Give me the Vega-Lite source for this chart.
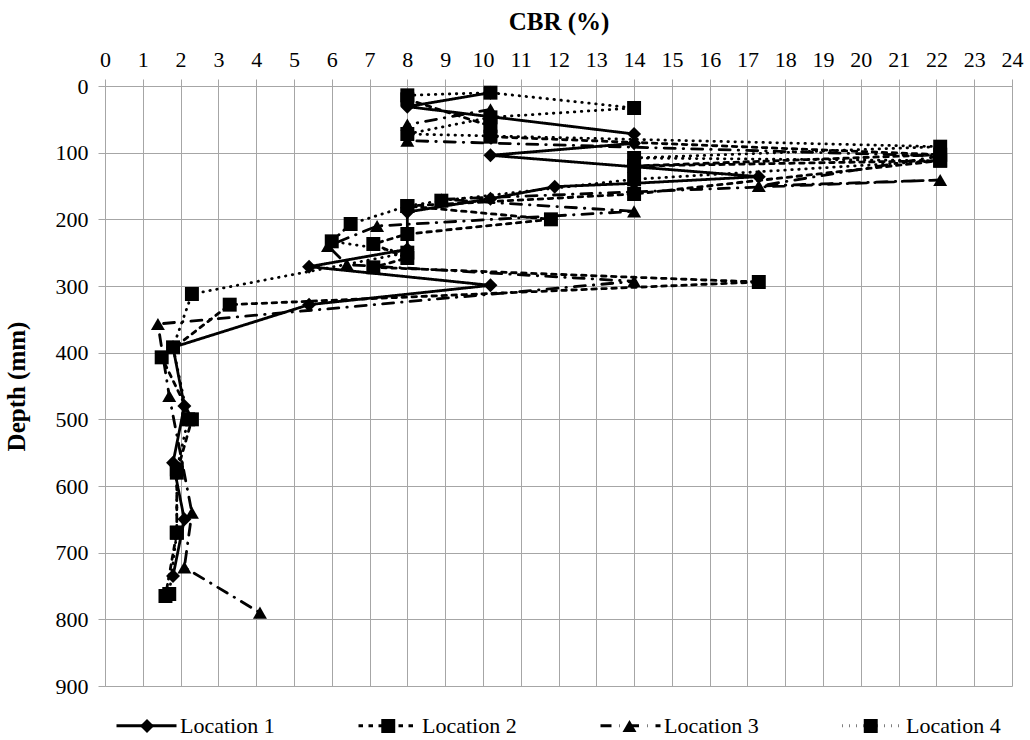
{
  "$schema": "https://vega.github.io/schema/vega-lite/v6.json",
  "width": 907,
  "height": 600,
  "autosize": "none",
  "padding": {"left": 105, "top": 86, "right": 18, "bottom": 54},
  "background": "white",
  "config": {
    "font": "Liberation Serif",
    "view": {"stroke": null},
    "style": {
      "guide-label": {"font": "Liberation Serif", "fontSize": 22, "fill": "black"},
      "guide-title": {"font": "Liberation Serif", "fontSize": 25, "fontWeight": "bold", "fill": "black"}
    },
    "axis": {
      "gridColor": "#a6a6a6", "gridWidth": 1, "gridOpacity": 1,
      "domainColor": "#a6a6a6", "domainWidth": 1,
      "tickColor": "#a6a6a6", "tickSize": 7, "tickWidth": 1,
      "labelFont": "Liberation Serif", "labelFontSize": 22, "labelColor": "black",
      "titleFont": "Liberation Serif", "titleFontSize": 25, "titleFontWeight": "bold", "titleColor": "black"
    },
    "legend": {
      "labelFont": "Liberation Serif", "labelFontSize": 22, "labelColor": "black"
    }
  },
  "data": {
    "values": [
      {"Location": "Location 1", "Order": 1, "CBR": 10.2, "Depth": 10},
      {"Location": "Location 1", "Order": 2, "CBR": 8, "Depth": 31},
      {"Location": "Location 1", "Order": 3, "CBR": 14, "Depth": 72},
      {"Location": "Location 1", "Order": 4, "CBR": 14, "Depth": 86},
      {"Location": "Location 1", "Order": 5, "CBR": 10.2, "Depth": 104},
      {"Location": "Location 1", "Order": 6, "CBR": 17.3, "Depth": 136},
      {"Location": "Location 1", "Order": 7, "CBR": 14, "Depth": 146},
      {"Location": "Location 1", "Order": 8, "CBR": 11.9, "Depth": 151},
      {"Location": "Location 1", "Order": 9, "CBR": 10.2, "Depth": 169},
      {"Location": "Location 1", "Order": 10, "CBR": 8, "Depth": 189},
      {"Location": "Location 1", "Order": 11, "CBR": 8, "Depth": 245},
      {"Location": "Location 1", "Order": 12, "CBR": 5.4, "Depth": 271},
      {"Location": "Location 1", "Order": 13, "CBR": 10.2, "Depth": 299},
      {"Location": "Location 1", "Order": 14, "CBR": 5.4, "Depth": 328},
      {"Location": "Location 1", "Order": 15, "CBR": 1.8, "Depth": 392},
      {"Location": "Location 1", "Order": 16, "CBR": 2.1, "Depth": 480},
      {"Location": "Location 1", "Order": 17, "CBR": 1.8, "Depth": 565},
      {"Location": "Location 1", "Order": 18, "CBR": 2.1, "Depth": 650},
      {"Location": "Location 1", "Order": 19, "CBR": 1.8, "Depth": 735},

      {"Location": "Location 2", "Order": 1, "CBR": 8, "Depth": 20},
      {"Location": "Location 2", "Order": 2, "CBR": 10.2, "Depth": 60},
      {"Location": "Location 2", "Order": 3, "CBR": 10.2, "Depth": 76},
      {"Location": "Location 2", "Order": 4, "CBR": 22.1, "Depth": 103},
      {"Location": "Location 2", "Order": 5, "CBR": 14, "Depth": 120},
      {"Location": "Location 2", "Order": 6, "CBR": 22.1, "Depth": 112},
      {"Location": "Location 2", "Order": 7, "CBR": 14, "Depth": 162},
      {"Location": "Location 2", "Order": 8, "CBR": 8, "Depth": 180},
      {"Location": "Location 2", "Order": 9, "CBR": 11.8, "Depth": 200},
      {"Location": "Location 2", "Order": 10, "CBR": 8, "Depth": 222},
      {"Location": "Location 2", "Order": 11, "CBR": 7.1, "Depth": 237},
      {"Location": "Location 2", "Order": 12, "CBR": 8, "Depth": 258},
      {"Location": "Location 2", "Order": 13, "CBR": 7.1, "Depth": 272},
      {"Location": "Location 2", "Order": 14, "CBR": 17.3, "Depth": 294},
      {"Location": "Location 2", "Order": 15, "CBR": 3.3, "Depth": 328},
      {"Location": "Location 2", "Order": 16, "CBR": 1.5, "Depth": 407},
      {"Location": "Location 2", "Order": 17, "CBR": 2.3, "Depth": 500},
      {"Location": "Location 2", "Order": 18, "CBR": 1.9, "Depth": 580},
      {"Location": "Location 2", "Order": 19, "CBR": 1.9, "Depth": 670},
      {"Location": "Location 2", "Order": 20, "CBR": 1.6, "Depth": 765},

      {"Location": "Location 3", "Order": 1, "CBR": 10.2, "Depth": 35},
      {"Location": "Location 3", "Order": 2, "CBR": 8, "Depth": 58},
      {"Location": "Location 3", "Order": 3, "CBR": 8, "Depth": 82},
      {"Location": "Location 3", "Order": 4, "CBR": 22.1, "Depth": 105},
      {"Location": "Location 3", "Order": 5, "CBR": 17.3, "Depth": 150},
      {"Location": "Location 3", "Order": 6, "CBR": 22.1, "Depth": 141},
      {"Location": "Location 3", "Order": 7, "CBR": 8.9, "Depth": 170},
      {"Location": "Location 3", "Order": 8, "CBR": 14, "Depth": 188},
      {"Location": "Location 3", "Order": 9, "CBR": 7.2, "Depth": 210},
      {"Location": "Location 3", "Order": 10, "CBR": 5.9, "Depth": 240},
      {"Location": "Location 3", "Order": 11, "CBR": 6.4, "Depth": 268},
      {"Location": "Location 3", "Order": 12, "CBR": 14, "Depth": 293},
      {"Location": "Location 3", "Order": 13, "CBR": 1.4, "Depth": 357},
      {"Location": "Location 3", "Order": 14, "CBR": 1.7, "Depth": 465},
      {"Location": "Location 3", "Order": 15, "CBR": 2.3, "Depth": 640},
      {"Location": "Location 3", "Order": 16, "CBR": 2.1, "Depth": 722},
      {"Location": "Location 3", "Order": 17, "CBR": 4.1, "Depth": 790},

      {"Location": "Location 4", "Order": 1, "CBR": 8, "Depth": 14},
      {"Location": "Location 4", "Order": 2, "CBR": 10.2, "Depth": 10},
      {"Location": "Location 4", "Order": 3, "CBR": 14, "Depth": 33},
      {"Location": "Location 4", "Order": 4, "CBR": 10.2, "Depth": 47},
      {"Location": "Location 4", "Order": 5, "CBR": 8, "Depth": 72},
      {"Location": "Location 4", "Order": 6, "CBR": 22.1, "Depth": 91},
      {"Location": "Location 4", "Order": 7, "CBR": 14, "Depth": 108},
      {"Location": "Location 4", "Order": 8, "CBR": 22.1, "Depth": 112},
      {"Location": "Location 4", "Order": 9, "CBR": 14, "Depth": 140},
      {"Location": "Location 4", "Order": 10, "CBR": 8.9, "Depth": 172},
      {"Location": "Location 4", "Order": 11, "CBR": 8, "Depth": 180},
      {"Location": "Location 4", "Order": 12, "CBR": 6.5, "Depth": 207},
      {"Location": "Location 4", "Order": 13, "CBR": 6.0, "Depth": 233},
      {"Location": "Location 4", "Order": 14, "CBR": 8, "Depth": 250},
      {"Location": "Location 4", "Order": 15, "CBR": 2.3, "Depth": 312},
      {"Location": "Location 4", "Order": 16, "CBR": 1.8, "Depth": 392},
      {"Location": "Location 4", "Order": 17, "CBR": 2.2, "Depth": 500},
      {"Location": "Location 4", "Order": 18, "CBR": 1.9, "Depth": 575},
      {"Location": "Location 4", "Order": 19, "CBR": 1.9, "Depth": 670},
      {"Location": "Location 4", "Order": 20, "CBR": 1.7, "Depth": 762}
    ]
  },
  "encoding": {
    "x": {
      "field": "CBR", "type": "quantitative",
      "scale": {"domain": [0, 24], "nice": false, "zero": false},
      "axis": {"orient": "top", "title": "CBR (%)", "values": [0,1,2,3,4,5,6,7,8,9,10,11,12,13,14,15,16,17,18,19,20,21,22,23,24], "labelPadding": 8, "titlePadding": 14, "labelFlush": false, "labelOverlap": false}
    },
    "y": {
      "field": "Depth", "type": "quantitative",
      "scale": {"domain": [0, 900], "reverse": true, "nice": false},
      "axis": {"title": "Depth (mm)", "values": [0,100,200,300,400,500,600,700,800,900], "labelPadding": 10, "titlePadding": 26, "labelFlush": false}
    }
  },
  "layer": [
    {
      "mark": {"type": "line", "color": "black", "strokeWidth": 2.8, "strokeCap": "round"},
      "encoding": {
        "strokeDash": {
          "field": "Location", "type": "nominal",
          "scale": {"range": [[1, 0], [4.5, 5.5], [11, 8, 0.5, 8], [0.5, 6.5]]},
          "legend": {"title": null, "orient": "none", "direction": "horizontal", "legendX": 10, "legendY": 608, "symbolType": "stroke", "symbolSize": 3600, "symbolStrokeWidth": 2.8, "symbolStrokeColor": "black", "labelOffset": 2, "columnPadding": 77, "labelFont": "Liberation Serif", "labelFontSize": 22, "labelColor": "black"}
        },
        "order": {"field": "Order", "type": "quantitative"}
      }
    },
    {
      "mark": {"type": "point", "filled": true, "color": "black", "opacity": 1, "size": 195},
      "encoding": {
        "shape": {
          "field": "Location", "type": "nominal",
          "scale": {"domain": ["Location 1", "Location 2", "Location 3", "Location 4"], "range": ["diamond", "square", "triangle-up", "square"]},
          "legend": {"title": null, "orient": "none", "direction": "horizontal", "legendX": 31, "legendY": 629, "symbolSize": 195, "symbolFillColor": "black", "symbolStrokeWidth": 0, "labelOffset": 26.25, "columnPadding": 192.25, "labelExpr": "''", "labelFont": "Liberation Serif", "labelFontSize": 22}
        }
      }
    }
  ]
}
